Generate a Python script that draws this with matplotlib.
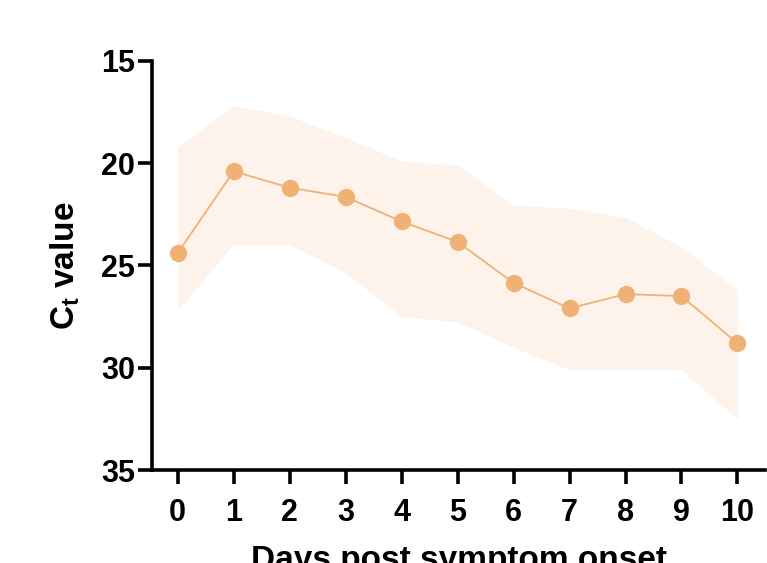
import numpy as np
import matplotlib
matplotlib.use("Agg")
from matplotlib import pyplot as plt

plt.rcParams['font.family'] = ['Liberation Sans', 'DejaVu Sans']

days = [0, 1, 2, 3, 4, 5, 6, 7, 8, 9, 10]
ct_mean = [24.4, 20.4, 21.2, 21.65, 22.85, 23.85, 25.85, 27.1, 26.4, 26.5, 28.8]
ct_upper = [19.2, 17.2, 17.7, 18.75, 19.9, 20.1, 22.05, 22.2, 22.65, 24.1, 26.2]
ct_lower = [27.2, 23.95, 24.0, 25.35, 27.5, 27.75, 29.0, 30.1, 30.1, 30.1, 32.5]
y_ticks = [15, 20, 25, 30, 35]

line_col = '#F0B274'
band_col = '#FDF3EA'

fig = plt.figure(figsize=(7.67, 5.63), dpi=100)
ax = fig.add_axes([0.198, 0.165, 0.80, 0.727])

ax.fill_between(days, ct_upper, ct_lower, color=band_col, linewidth=0)
ax.plot(days, ct_mean, color=line_col, lw=1.3, marker='o', ms=12.5,
        markeredgewidth=0, zorder=3)

ax.set_ylim(35, 15)
ax.set_xlim(-0.46, 10.5)
ax.set_yticks(y_ticks)
ax.set_xticks(days)

for s in ['top', 'right']:
    ax.spines[s].set_visible(False)
for s in ['left', 'bottom']:
    ax.spines[s].set_linewidth(2.6)

ax.tick_params(axis='both', width=2.6, length=10, labelsize=22)
ax.tick_params(axis='x', pad=10)
ax.tick_params(axis='y', pad=2)
for lab in ax.get_xticklabels() + ax.get_yticklabels():
    lab.set_fontweight('bold')

ax.set_ylabel(r'C$_\mathregular{t}$ value', fontsize=24, fontweight='bold', labelpad=14)
ax.set_xlabel('Days post symptom onset', fontsize=24, fontweight='bold', labelpad=12)

fig.savefig('out.png', dpi=100)
